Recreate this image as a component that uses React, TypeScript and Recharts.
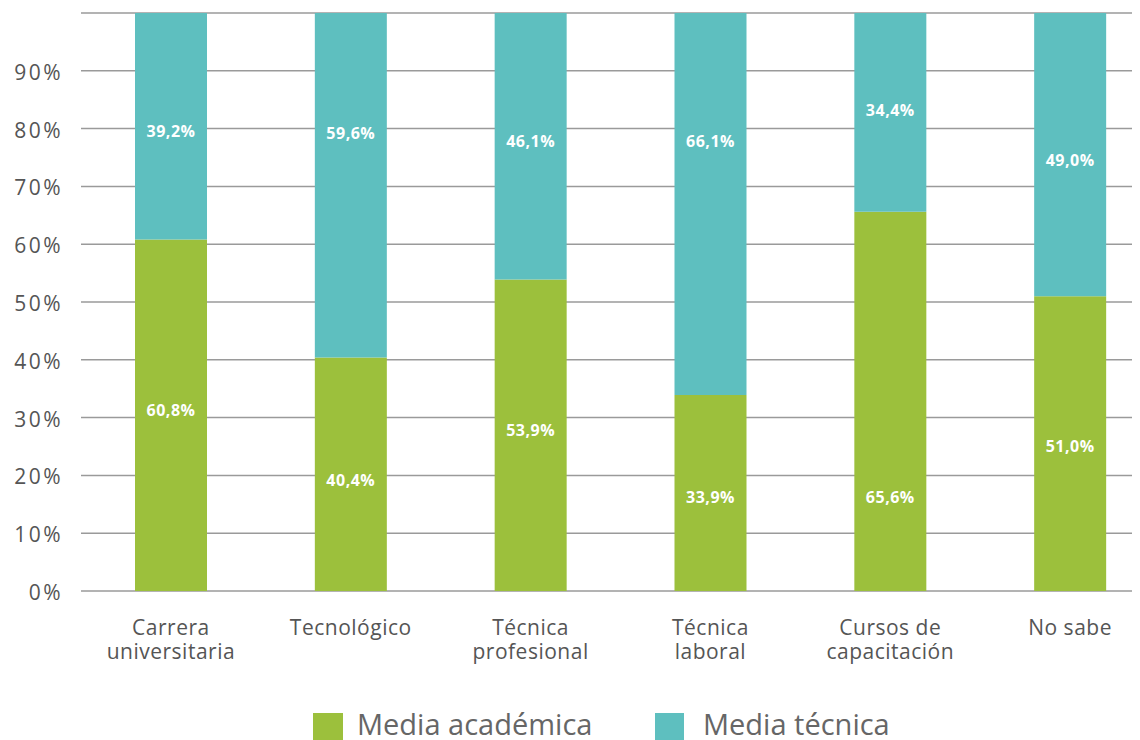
import React from 'react';
import { BarChart, Bar, XAxis, YAxis, CartesianGrid, LabelList } from 'recharts';

const categories = ['Carrera\nuniversitaria', 'Tecnológico', 'Técnica\nprofesional', 'Técnica\nlaboral', 'Cursos de\ncapacitación', 'No sabe'];
const mediaAcademica = [60.8, 40.4, 53.9, 33.9, 65.6, 51.0];
const mediaTecnica = [39.2, 59.6, 46.1, 66.1, 34.4, 49.0];
const yTicks = [0, 10, 20, 30, 40, 50, 60, 70, 80, 90, 100];
// where each value label sits along the stacked bar, in % units
const acadLabelAt = [31.3, 19.2, 27.9, 16.3, 16.2, 25.1];
const tecLabelAt = [79.6, 79.2, 77.9, 77.9, 83.3, 74.6];
const seriesNames = ['Media académica', 'Media técnica'];

const GREEN = '#9cc03c';
const TEAL = '#5ebfbf';
const FONT = '"Open Sans", sans-serif';

const data = categories.map((c, i) => ({
  name: c,
  acad: mediaAcademica[i],
  tec: mediaTecnica[i],
}));

const fmt = (v: number) => v.toFixed(1).replace('.', ',') + '%';

const XTick = (props: any) => {
  const { x, y, payload } = props;
  const lines = String(payload.value).split('\n');
  return (
    <g>
      {lines.map((l, i) => (
        <text key={i} x={x} y={y + 36 + i * 24} textAnchor="middle" fill="#555" fontFamily={FONT} fontSize={21} letterSpacing={0.5}>
          {l}
        </text>
      ))}
    </g>
  );
};

const YTick = (props: any) => {
  const { y, payload } = props;
  if (payload.value === 100) return null;
  return (
    <text x={63} y={y + 9} textAnchor="end" fill="#555" fontFamily={FONT} fontSize={21} letterSpacing={2.5}>
      {payload.value + '%'}
    </text>
  );
};

const makeLabel = (which: 'acad' | 'tec') => (props: any) => {
  const { x, y, width, height, index } = props;
  const a = mediaAcademica[index];
  const t = mediaTecnica[index];
  let ly: number;
  if (which === 'acad') {
    ly = y + height - (acadLabelAt[index] / a) * height;
  } else {
    ly = y + height - ((tecLabelAt[index] - a) / t) * height;
  }
  const v = which === 'acad' ? a : t;
  return (
    <text x={x + width / 2} y={ly + 6} textAnchor="middle" fill="#fff" fontFamily={FONT} fontWeight={700} fontSize={16} letterSpacing={0.5}>
      {fmt(v)}
    </text>
  );
};

export default function App() {
  return (
    <div style={{ position: 'relative', margin: '-8px 0 0 -8px', width: 1140, height: 740, overflow: 'hidden', background: '#fff' }}>
      <BarChart width={1160} height={700} data={data} margin={{ top: 13, right: 0, left: 0, bottom: 0 }}>
        <CartesianGrid vertical={false} stroke="#9a9a9a" strokeWidth={1.5} />
        <XAxis dataKey="name" interval={0} height={109} tickLine={false} axisLine={false} tick={<XTick />} />
        <YAxis width={81} domain={[0, 100]} ticks={yTicks} tickLine={false} axisLine={false} tick={<YTick />} interval={0} />
        <Bar dataKey="acad" stackId="s" fill={GREEN} barSize={72} isAnimationActive={false} name={seriesNames[0]}>
          <LabelList dataKey="acad" content={makeLabel('acad')} />
        </Bar>
        <Bar dataKey="tec" stackId="s" fill={TEAL} barSize={72} isAnimationActive={false} name={seriesNames[1]}>
          <LabelList dataKey="tec" content={makeLabel('tec')} />
        </Bar>
      </BarChart>
      <div style={{ position: 'absolute', top: 711, left: 0, width: 1140, height: 30, fontFamily: FONT, fontSize: 29, color: '#666' }}>
        <div style={{ position: 'absolute', left: 313, top: 2, width: 30, height: 27, background: GREEN }} />
        <div style={{ position: 'absolute', left: 357, top: -6, whiteSpace: 'nowrap', lineHeight: '38px' }}>{seriesNames[0]}</div>
        <div style={{ position: 'absolute', left: 655, top: 2, width: 29, height: 27, background: TEAL }} />
        <div style={{ position: 'absolute', left: 703, top: -6, whiteSpace: 'nowrap', lineHeight: '38px' }}>{seriesNames[1]}</div>
      </div>
    </div>
  );
}
